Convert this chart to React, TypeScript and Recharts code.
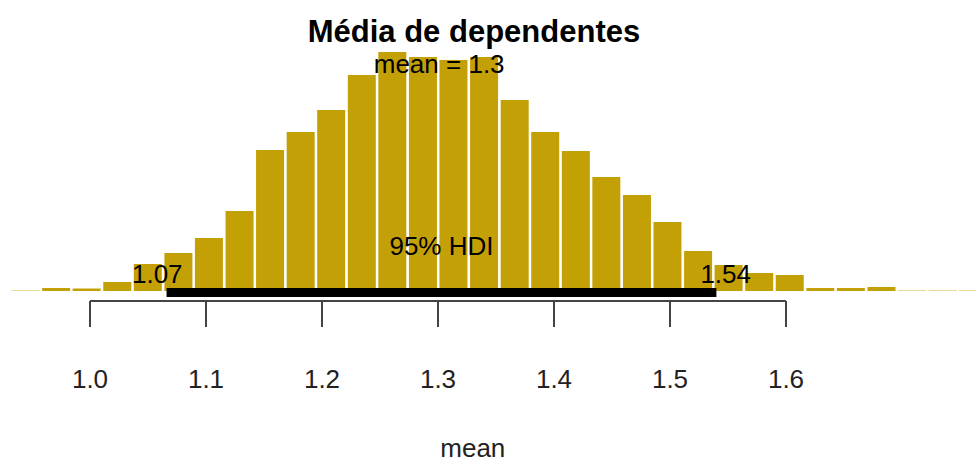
import { ComposedChart, Bar, XAxis, YAxis, ReferenceLine, ReferenceDot } from 'recharts'

// histogram of the posterior mean (bin midpoints and bar heights)
const binMids = [
  0.9442, 0.9706, 0.9969, 1.0233, 1.0496, 1.076, 1.1023, 1.1287, 1.155, 1.1814, 1.2077,
  1.2341, 1.2604, 1.2868, 1.3131, 1.3395, 1.3659, 1.3922, 1.4186, 1.4449, 1.4713, 1.4976,
  1.524, 1.5503, 1.5767, 1.603, 1.6294, 1.6557, 1.6821, 1.7084, 1.7348, 1.7611,
]
const binCounts = [
  0.4, 3, 2.5, 9, 27, 38, 53, 80, 141, 159, 181, 216, 239, 234, 231, 234, 191, 159, 140, 114,
  96, 69, 40, 26, 18, 16, 3, 3, 4, 0.4, 0.4, 0.4,
]
const xTicks = [1.0, 1.1, 1.2, 1.3, 1.4, 1.5, 1.6]
const hdiLimits = [1.066, 1.54]
const meanValue = 1.301

const FONT = '"Liberation Sans", Arial, Helvetica, sans-serif'
const GOLD = '#C4A007'

const data = binMids.map((mid, i) => ({ mid, count: binCounts[i] }))

const note =
  (text: string, opts: { size?: number; bold?: boolean; anchor?: string; dx?: number; fill?: string }) =>
  (props: any) => {
    const vb = props.viewBox || {}
    return (
      <text
        x={(vb.x || 0) + (opts.dx || 0)}
        y={vb.y || 0}
        textAnchor={opts.anchor || 'middle'}
        fontFamily={FONT}
        fontSize={opts.size || 26}
        fontWeight={opts.bold ? 'bold' : 'normal'}
        fill={opts.fill || '#000'}
      >
        {text}
      </text>
    )
  }

export default function App() {
  return (
    <div style={{ position: 'absolute', left: 0, top: 0, width: 976, height: 463, background: '#fff' }}>
      <ComposedChart
        width={976}
        height={463}
        data={data}
        margin={{ top: 0, right: 0, bottom: 0, left: 0 }}
        barCategoryGap={1.5}
      >
        <XAxis
          type="number"
          dataKey="mid"
          domain={[0.92241, 1.76379]}
          allowDataOverflow
          ticks={xTicks}
          interval={0}
          tickFormatter={(v: number) => v.toFixed(1)}
          axisLine={false}
          tickLine={{ stroke: '#444', strokeWidth: 2 }}
          tickSize={26}
          tickMargin={43}
          tick={{ fill: '#222', fontSize: 26, fontFamily: FONT }}
          height={162}
        />
        <YAxis type="number" hide width={0} domain={[-10, 291]} allowDataOverflow />
        <Bar dataKey="count" fill={GOLD} isAnimationActive={false} />
        <ReferenceLine
          segment={[{ x: xTicks[0], y: -10 }, { x: xTicks[xTicks.length - 1], y: -10 }]}
          stroke="#444"
          strokeWidth={2}
          ifOverflow="visible"
        />
        <ReferenceLine
          segment={[{ x: hdiLimits[0], y: -1.5 }, { x: hdiLimits[1], y: -1.5 }]}
          stroke="#000"
          strokeWidth={9}
          ifOverflow="visible"
        />
        <ReferenceDot x={1.331} y={249} r={0} ifOverflow="visible"
          label={note('Média de dependentes', { size: 31, bold: true })} />
        <ReferenceDot x={meanValue} y={218} r={0} ifOverflow="visible"
          label={note('mean = 1.3', {})} />
        <ReferenceDot x={(hdiLimits[0] + hdiLimits[1]) / 2} y={36} r={0} ifOverflow="visible"
          label={note('95% HDI', {})} />
        <ReferenceDot x={hdiLimits[0]} y={8} r={0} ifOverflow="visible"
          label={note('1.07', { anchor: 'end', dx: 16 })} />
        <ReferenceDot x={hdiLimits[1]} y={8} r={0} ifOverflow="visible"
          label={note('1.54', { anchor: 'start', dx: -16 })} />
        <ReferenceDot x={1.33} y={-166} r={0} ifOverflow="visible"
          label={note('mean', { fill: '#222' })} />
      </ComposedChart>
    </div>
  )
}
